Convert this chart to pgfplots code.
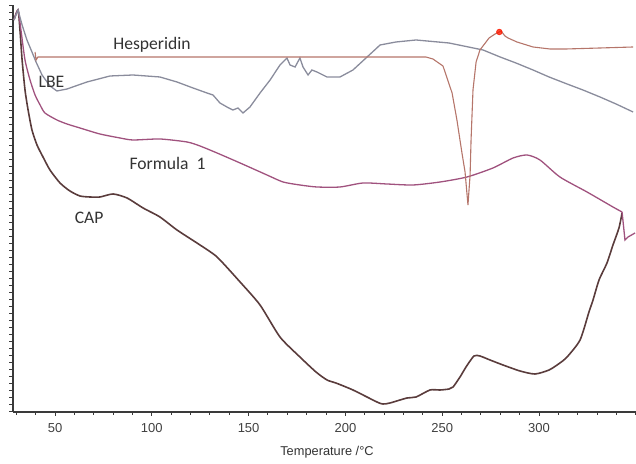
\documentclass[border=0pt]{standalone}
\usepackage{pgfplots}
\pgfplotsset{compat=1.18}
\usepackage{fontspec}
\setmainfont{Liberation Sans}
\newfontfamily\lblfont{Carlito}
\definecolor{capc}{HTML}{5A3C3C}
\definecolor{formc}{HTML}{A0527E}
\definecolor{lbec}{HTML}{8A8C9C}
\definecolor{hesc}{HTML}{B5756A}
\definecolor{axc}{HTML}{3A3A3A}
\begin{document}
\begin{tikzpicture}
\path[use as bounding box] (0,0) rectangle (318pt,232pt);
\begin{axis}[
  at={(6.5pt,26pt)}, anchor=south west,
  scale only axis, width=311.5pt, height=203.5pt,
  xmin=28.3, xmax=350.1, ymin=52, ymax=459,
  axis lines*=left,
  axis line style={axc, line width=0.6pt},
  xtick={50,100,...,300},
  minor xtick={30,40,...,350},
  ytick={52,59,...,458},
  yticklabels={},
  tick align=outside,
  major tick length=2pt, minor tick length=1.5pt,
  tick style={axc, line width=0.5pt},
  every tick label/.append style={font=\fontsize{6.5}{7}\selectfont, text=black!75},
  /pgf/number format/assume math mode=true,
  xlabel={Temperature /°C},
  xlabel style={at={(axis description cs:0.504,-0.098)}, anchor=center, font=\fontsize{6.4}{7}\selectfont, text=black!80},
  clip=false,
]
% CAP
\addplot[capc, line width=0.8pt, smooth, tension=0.4] coordinates {
(28.8,444) (30.9,454) (31.9,434) (33.0,404) (34.5,374) (36.1,354) (38.1,334) (40.7,319)
(43.8,307) (47.4,294) (52.6,281) (57.7,273) (62.9,268) (68.1,267) (73.2,267) (80.0,270)
(87.2,266) (95.5,256) (104.2,247) (113.0,234) (124.9,219) (133.7,207) (145.6,182) (155.9,159)
(166.2,127) (176.5,107) (184.8,92) (190.5,84) (195.1,81) (203.9,74) (216.3,62) (219.4,60)
(223.0,61) (231.8,66) (236.5,67) (243.7,74) (248.9,74) (253.5,75) (255.6,77) (259.2,87)
(262.3,97) (266.4,108) (269.5,108) (274.7,104) (281.4,99) (290.2,93) (297.9,90) (305.2,94)
(310.8,101) (314.5,107) (321.2,124) (325.8,152) (327.9,164) (331.0,184) (335.1,201)
(338.2,219) (341.3,236) (342.9,251)
};
% Formula 1
\addplot[formc, line width=0.65pt, smooth, tension=0.4] coordinates {
(28.8,444) (30.9,454) (32.4,434) (34.5,404) (37.1,384) (39.7,369) (42.3,359) (44.8,351)
(51.0,344) (56.2,340) (62.9,336) (73.2,330) (83.6,326) (90.3,324) (104.2,325) (118.2,322)
(124.9,318) (133.7,311) (145.6,301) (159.5,289) (167.8,282) (176.5,279) (185.3,277)
(197.2,277) (209.1,281) (221.5,280) (234.9,279) (248.9,282) (262.8,287) (276.2,296)
(286.6,306) (293.8,309) (300.5,304) (310.8,287) (324.8,272) (338.2,257) (342.9,252)
};
\addplot[formc, line width=0.65pt] coordinates {
(342.9,252) (344.4,224) (346.0,227) (349.6,231)
};
% LBE
\addplot[lbec, line width=0.65pt] coordinates {
(28.8,444) (30.9,454) (33.0,439) (35.5,424) (38.1,412) (40.2,402) (43.3,389) (47.4,378)
(51.0,373) (56.2,375) (66.5,382) (78.4,388) (90.3,389) (104.2,387) (113.0,382) (121.3,376)
(128.5,371) (131.6,369) (135.2,361) (138.8,357) (141.9,354) (144.5,356) (147.1,351)
(150.7,357) (155.9,371) (161.1,384) (166.2,399) (169.8,406) (171.4,399) (174.0,397)
(176.5,406) (178.1,397) (180.7,389) (182.7,394) (185.3,392) (190.5,387) (197.2,387)
(203.9,394) (211.2,407) (217.9,419) (226.1,422) (236.5,424) (253.5,421) (271.1,414)
(279.9,407) (288.1,401) (296.9,394) (305.2,387) (314.5,380) (322.7,374) (331.5,367)
(339.8,360) (348.6,352)
};
% Hesperidin
\addplot[hesc, line width=0.55pt] coordinates {
(39.7,412) (40.2,404) (41.2,407) (50,407) (124.9,407) (241.6,407) (245.2,405) (250.4,398)
(255.1,371) (257.6,344) (260.2,311) (261.8,292) (263.3,259) (264.4,289) (264.9,324)
(265.9,374) (267.5,402) (269.5,414) (274.2,426) (277.3,430) (280.4,433) (282.4,428)
(284.0,426) (288.6,422) (296.9,417) (305.7,415) (313.9,415) (331.5,416) (348.6,417)
};
\addplot[only marks, mark=*, mark size=1.4pt, color=red!80!orange, opacity=0.8] coordinates {(279.5,432)};
\node[font=\lblfont\fontsize{8.8}{10}\selectfont, text=black!80] at (axis cs:100.1,419) {Hesperidin};
\node[font=\lblfont\fontsize{8.8}{10}\selectfont, text=black!80] at (axis cs:48.2,382) {LBE};
\node[font=\lblfont\fontsize{8.8}{10}\selectfont, text=black!80] at (axis cs:108.1,301) {Formula\ \ 1};
\node[font=\lblfont\fontsize{8.8}{10}\selectfont, text=black!80] at (axis cs:67.6,246) {CAP};
\end{axis}
\end{tikzpicture}
\end{document}
